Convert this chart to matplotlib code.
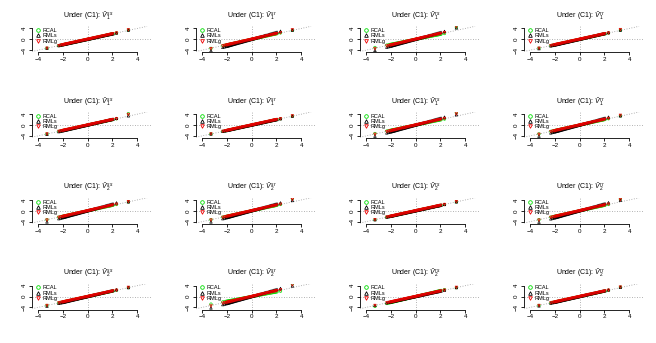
import numpy as np
import matplotlib
matplotlib.use("Agg")
import matplotlib.pyplot as plt
from matplotlib.lines import Line2D

plt.rcParams['font.family'] = ['Liberation Sans', 'DejaVu Sans']
plt.rcParams['mathtext.fontset'] = 'custom'
plt.rcParams['mathtext.rm'] = 'Liberation Sans'
plt.rcParams['mathtext.it'] = 'Liberation Sans:italic'

# theoretical normal quantiles (shared x for every panel)
qx = [-3.29, -2.33, -2.17, -2.05, -1.96, -1.88, -1.80, -1.72, -1.64, -1.55,
      -1.46, -1.37, -1.28, -1.19, -1.10, -1.00, -0.91, -0.82, -0.73, -0.64,
      -0.55, -0.46, -0.37, -0.28, -0.19, -0.10, -0.02, 0.06, 0.14, 0.22,
      0.30, 0.39, 0.48, 0.57, 0.66, 0.75, 0.84, 0.94, 1.04, 1.14,
      1.24, 1.34, 1.44, 1.54, 1.63, 1.72, 1.80, 1.88, 1.96, 2.05,
      2.33, 3.29]

titles = [r"Under (C1): $\hat{V}_1^{\,ss}$", r"Under (C1): $\hat{V}_1^{\,sr}$",
          r"Under (C1): $\hat{V}_1^{\,rs}$", r"Under (C1): $\hat{V}_1^{\,rr}$",
          r"Under (C1): $\hat{V}_1^{\,ss}$", r"Under (C1): $\hat{V}_1^{\,sr}$",
          r"Under (C1): $\hat{V}_1^{\,rs}$", r"Under (C1): $\hat{V}_1^{\,rr}$",
          r"Under (C1): $\hat{V}_2^{\,ss}$", r"Under (C1): $\hat{V}_2^{\,sr}$",
          r"Under (C1): $\hat{V}_2^{\,rs}$", r"Under (C1): $\hat{V}_2^{\,rr}$",
          r"Under (C1): $\hat{V}_2^{\,ss}$", r"Under (C1): $\hat{V}_2^{\,sr}$",
          r"Under (C1): $\hat{V}_2^{\,rs}$", r"Under (C1): $\hat{V}_2^{\,rr}$"]

# slope of each series' quantile band, read per panel
scale_rcal = [1.00, 1.02, 0.92, 1.00, 1.00, 1.00, 0.95, 1.00,
              1.00, 1.00, 1.00, 1.00, 1.00, 0.85, 1.10, 1.00]
scale_rmls = [1.00, 1.28, 1.25, 1.05, 1.05, 1.00, 1.25, 1.25,
              1.25, 1.25, 1.00, 1.28, 1.08, 1.28, 1.00, 1.05]
scale_rmlg = [1.00, 1.04, 1.06, 1.00, 1.00, 1.00, 1.04, 1.04,
              1.04, 1.04, 1.00, 1.05, 1.00, 1.06, 1.00, 1.00]
# largest order statistic per panel (upper tail point)
top_rcal = [3.4, 3.3, 4.5, 3.4, 4.2, 3.3, 4.6, 3.4, 3.3, 4.5, 3.3, 4.3, 3.3, 4.6, 3.3, 3.5]
top_rmls = [3.4, 3.4, 4.2, 3.4, 3.4, 3.3, 3.8, 3.4, 3.3, 3.8, 3.3, 3.9, 3.3, 3.9, 3.3, 3.4]
top_rmlg = [3.5, 3.5, 4.7, 3.6, 3.9, 3.4, 4.1, 3.6, 3.4, 4.2, 3.4, 4.1, 3.4, 4.3, 3.4, 3.5]

labels = ["RCAL", "RMLs", "RMLg"]
colors = ["#00dd00", "black", "#ee0000"]
markers = ["o", "^", "v"]

W, H = 656, 343
fig = plt.figure(figsize=(W / 100, H / 100), dpi=100)

colw, rowh = 164.0, 85.75
x = np.array(qx)
for k in range(16):
    r, c = divmod(k, 4)
    left = (32 + c * colw) / W
    bottom = 1 - (52.3 + r * rowh) / H
    ax = fig.add_axes([left, bottom, 120 / W, 26 / H])
    ax.set_xlim(-4.5, 5.2)
    ax.set_ylim(-4.8, 4.8)
    ax.axline((0, 0), slope=1, color="#999999", lw=0.6, ls=(0, (1, 2)), zorder=1)
    ax.axhline(0, color="#999999", lw=0.6, ls=(0, (1, 2)), zorder=1)
    ax.axvline(0, color="#999999", lw=0.6, ls=(0, (1, 2)), zorder=1)
    series = [(scale_rcal, top_rcal), (scale_rmls, top_rmls), (scale_rmlg, top_rmlg)]
    for (sc, tp), col, mk in zip(series, colors, markers):
        y = sc[k] * x
        y[-1] = tp[k]
        ax.scatter(x, y, s=3.2, marker=mk, facecolors="none", edgecolors=col,
                   linewidths=0.5, zorder=3)
    for s in ["top", "right"]:
        ax.spines[s].set_visible(False)
    ax.spines["left"].set_bounds(-4, 4)
    ax.spines["bottom"].set_bounds(-4, 4)
    for s in ["left", "bottom"]:
        ax.spines[s].set_linewidth(0.6)
    ax.set_xticks([-4, -2, 0, 2, 4])
    ax.set_yticks([-4, 0, 4])
    ax.tick_params(axis="both", length=2, width=0.6, labelsize=4.5, pad=1.5)
    for lab in ax.get_yticklabels():
        lab.set_rotation(90)
        lab.set_va("center")
    ax.set_title(titles[k], fontsize=5, pad=6, x=0.47)
    handles = [Line2D([], [], ls="none", marker=m, markersize=2.6, markerfacecolor="none",
                      markeredgecolor=cc, markeredgewidth=0.6) for m, cc in zip(markers, colors)]
    ax.legend(handles, labels, loc="upper left", bbox_to_anchor=(0.03, 0.93), frameon=False,
              fontsize=4, handlelength=0.8, handletextpad=0.4, labelspacing=0.05,
              borderpad=0.0, borderaxespad=0.0)

fig.savefig("out.png", dpi=100)
